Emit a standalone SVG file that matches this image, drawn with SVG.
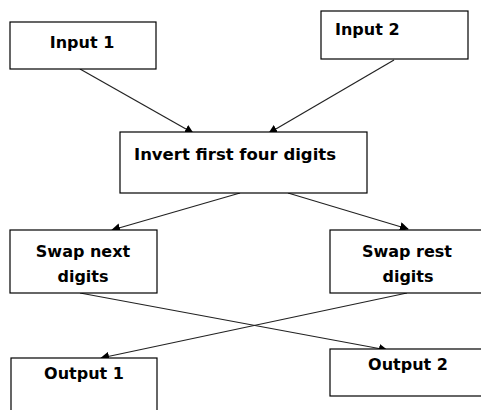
<svg xmlns="http://www.w3.org/2000/svg" width="481" height="410" viewBox="0 0 481 410">
  <style>
    .box { fill: #ffffff; stroke: #000000; stroke-width: 1.2; }
    .lbl { font-family: "DejaVu Sans", "Liberation Sans", sans-serif; font-weight: bold; font-size: 16px; fill: #000000; }
    .edge { stroke: #222222; stroke-width: 1.2; fill: none; marker-end: url(#tip); }
  </style>
  <defs>
    <marker id="tip" viewBox="0 0 10 10" refX="9" refY="5" markerWidth="9" markerHeight="9" markerUnits="userSpaceOnUse" orient="auto">
      <path d="M0,0 L10,5 L0,10 z" fill="#000000"/>
    </marker>
  </defs>
  <rect width="481" height="410" fill="#ffffff"/>

  <g id="connectors">
    <line class="edge" x1="80" y1="69" x2="193" y2="133"/>
    <line class="edge" x1="394" y1="60" x2="269" y2="133"/>
    <line class="edge" x1="240" y1="193" x2="112" y2="230"/>
    <line class="edge" x1="288" y1="193" x2="408" y2="229"/>
    <line class="edge" x1="80" y1="293" x2="387" y2="350"/>
    <line class="edge" x1="407" y1="293" x2="101" y2="358"/>
  </g>

  <g id="input1">
    <rect class="box" x="10" y="22" width="146" height="47"/>
    <text class="lbl" x="82" y="48" text-anchor="middle">Input 1</text>
  </g>
  <g id="input2">
    <rect class="box" x="321" y="11" width="147" height="48"/>
    <text class="lbl" x="335" y="35">Input 2</text>
  </g>
  <g id="invert">
    <rect class="box" x="120" y="132" width="247" height="61"/>
    <text class="lbl" x="134" y="160" textLength="202" lengthAdjust="spacingAndGlyphs">Invert first four digits</text>
  </g>
  <g id="swapnext">
    <rect class="box" x="10" y="230" width="147" height="63"/>
    <text class="lbl" x="83" y="257" text-anchor="middle">Swap next</text>
    <text class="lbl" x="83" y="282" text-anchor="middle">digits</text>
  </g>
  <g id="swaprest">
    <rect class="box" x="330" y="230" width="155" height="63"/>
    <text class="lbl" x="407" y="257" text-anchor="middle">Swap rest</text>
    <text class="lbl" x="408" y="282" text-anchor="middle">digits</text>
  </g>
  <g id="output1">
    <rect class="box" x="11" y="358" width="146" height="60"/>
    <text class="lbl" x="84" y="379" text-anchor="middle">Output 1</text>
  </g>
  <g id="output2">
    <rect class="box" x="330" y="349" width="155" height="47"/>
    <text class="lbl" x="408" y="370" text-anchor="middle">Output 2</text>
  </g>
</svg>
